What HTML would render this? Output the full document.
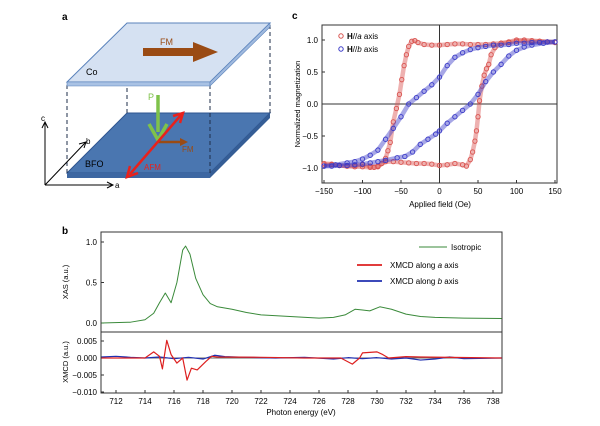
<!DOCTYPE html>
<html><head><meta charset="utf-8"><style>
body{margin:0;background:#fff;}
svg{display:block;font-family:"Liberation Sans",Arial,sans-serif;}
</style></head><body>
<svg id="fig" width="600" height="426" viewBox="0 0 600 426">
<g>
<text x="62" y="20" font-size="10" font-weight="bold">a</text>
<polygon points="67,173 127,113 270,113 210,173" fill="#4a76b0" stroke="#2f5590"/>
<polygon points="67,173 210,173 210,178 67,178" fill="#3d67a2"/>
<polygon points="210,173 270,113 270,118 210,178" fill="#355d95"/>
<g stroke="#1d2d4a" stroke-dasharray="4,3" stroke-width="1">
<line x1="67" y1="85" x2="67" y2="173"/><line x1="127" y1="25" x2="127" y2="113"/>
<line x1="210" y1="85" x2="210" y2="173"/><line x1="270" y1="25" x2="270" y2="113"/>
</g>
<polygon points="67,82 127,23 270,23 210,82" fill="#d5e1f2" stroke="#5a82bb"/>
<polygon points="67,82 210,82 210,86 67,86" fill="#a9c2e4" stroke="#5a82bb" stroke-width="0.6"/>
<polygon points="210,82 270,23 270,27 210,86" fill="#9fb9de" stroke="#5a82bb" stroke-width="0.6"/>
<polygon points="143,48 193,48 193,42 218,52 193,62 193,56 143,56" fill="#9a4b14"/>
<text x="160" y="45" font-size="9" fill="#9a4b14">FM</text>
<text x="86" y="75" font-size="9">Co</text>
<text x="85" y="167" font-size="9">BFO</text>
<line x1="157" y1="142" x2="182" y2="142" stroke="#9a4b14" stroke-width="2.5"/>
<polygon points="180,138 188,142 180,146" fill="#9a4b14"/>
<text x="182" y="152" font-size="8" fill="#9a4b14">FM</text>
<line x1="158" y1="95" x2="158" y2="132" stroke="#7fc24a" stroke-width="3.5"/>
<polyline points="149,124 158,140 167,124" fill="none" stroke="#7fc24a" stroke-width="3.5"/>
<text x="148" y="100" font-size="9" fill="#7fc24a">P</text>
<line x1="130" y1="174" x2="181" y2="115" stroke="#e8211c" stroke-width="2.5"/>
<polyline points="130,166 127,177 138,173" fill="none" stroke="#e8211c" stroke-width="2.5"/>
<polyline points="173,116 183,113 180,123" fill="none" stroke="#e8211c" stroke-width="2.5"/>
<text x="144" y="170" font-size="8" fill="#e8211c">AFM</text>
<g stroke="#000" stroke-width="1" fill="none">
<line x1="45" y1="185" x2="45" y2="123"/><polyline points="42,128 45,122 48,128"/>
<line x1="45" y1="185" x2="112" y2="185"/><polyline points="107,182 113,185 107,188"/>
<line x1="45" y1="185" x2="85" y2="143"/><polyline points="79,144 86,142 84,148"/>
</g>
<text x="41" y="121" font-size="8">c</text>
<text x="115" y="188" font-size="8">a</text>
<text x="86" y="144" font-size="8">b</text>
</g>
<text x="292" y="19" font-size="10" font-weight="bold">c</text>
<text x="62" y="234" font-size="10" font-weight="bold">b</text>
<g id="hyst"></g>
<g id="xas"></g>
</svg>
<script>
const redDownH=[150,140,130,120,110,100,90,80,70,60,50,40,30,20,10,0,-10,-20,-28,-32,-36,-40,-43,-46,-49,-52,-56,-60,-64,-67,-70,-75,-80,-85,-90,-100,-110,-120,-130,-140,-150];
const redDownM=[0.97,0.97,0.98,0.99,1.0,0.98,0.96,0.95,0.94,0.93,0.93,0.93,0.94,0.94,0.93,0.92,0.92,0.93,0.96,0.99,0.98,0.9,0.77,0.6,0.38,0.15,-0.07,-0.28,-0.6,-0.73,-0.85,-0.93,-0.98,-0.99,-0.97,-0.95,-0.96,-0.97,-0.96,-0.94,-0.93];
const redUpH=[-150,-140,-130,-120,-110,-100,-90,-80,-70,-60,-50,-40,-30,-20,-10,0,10,20,30,35,40,43,46,48,50,52,55,58,61,64,67,72,80,90,100,110,120,130,140,150];
const redUpM=[-0.95,-0.95,-0.96,-0.97,-0.98,-0.98,-0.99,-0.97,-0.9,-0.9,-0.91,-0.92,-0.93,-0.93,-0.94,-0.96,-0.95,-0.93,-0.95,-0.97,-0.87,-0.75,-0.58,-0.42,-0.2,0.05,0.28,0.45,0.55,0.62,0.77,0.88,0.95,0.97,1.0,0.98,0.97,0.98,0.97,0.96];
const blueDownH=[150,140,130,120,110,100,90,80,70,60,50,40,30,20,10,0,-10,-20,-30,-40,-50,-60,-70,-80,-90,-100,-110,-120,-135,-150];
const blueDownM=[0.97,0.97,0.96,0.96,0.95,0.95,0.93,0.92,0.92,0.9,0.88,0.85,0.8,0.73,0.6,0.42,0.3,0.2,0.1,0.0,-0.2,-0.38,-0.55,-0.72,-0.8,-0.86,-0.9,-0.92,-0.95,-0.97];
const blueUpH=[-150,-140,-130,-120,-110,-100,-90,-80,-70,-55,-45,-35,-25,-15,-5,0,10,20,30,40,50,60,70,80,90,100,110,120,135,150];
const blueUpM=[-0.97,-0.97,-0.96,-0.96,-0.95,-0.94,-0.92,-0.9,-0.88,-0.84,-0.82,-0.75,-0.63,-0.55,-0.47,-0.42,-0.3,-0.2,-0.1,0.0,0.15,0.35,0.5,0.62,0.75,0.84,0.89,0.92,0.95,0.97];
const hXTicks=[-150,-100,-50,0,50,100,150];
const hYTicks=[-1.0,-0.5,0.0,0.5,1.0];

const xasE=[711,713,714,714.6,715,715.4,715.8,716.2,716.6,716.8,717.1,717.5,718,718.5,719,720,721,722,724,726,727,727.8,728.5,729,729.5,730.2,731,732,733,734,736,738.6];
const xasV=[0,0.01,0.04,0.12,0.25,0.37,0.25,0.5,0.9,0.95,0.85,0.55,0.35,0.24,0.2,0.17,0.13,0.1,0.08,0.06,0.07,0.1,0.17,0.16,0.15,0.2,0.17,0.11,0.08,0.07,0.06,0.055];
const xmcdAE=[711,714,714.6,715,715.2,715.5,715.8,716.2,716.6,716.9,717.2,717.6,718.2,718.6,719,722,725,727.5,728.3,728.8,729,730,730.4,730.8,732,733,738.6];
const xmcdAV=[0,0,1.8,0.5,-3.2,5.2,1,-1.5,0,-6.5,-3,-3.5,-1,0.5,0.3,0.2,0,0,-1.8,0,1.5,1.8,1,0,0.4,0.3,0];
const xmcdBE=[711,712,713,714,715,716,717,718,718.8,719.5,721,723,725,727,728,729,730,731,732,733,734,735,736,738.6];
const xmcdBV=[0.3,0.5,0.2,0,0.3,-0.2,0.2,-0.3,0.8,0.4,0.2,0,0.2,-0.3,0.1,-0.2,0.1,-0.3,0,-0.6,-0.3,0.3,-0.2,0];
const eTicks=[712,714,716,718,720,722,724,726,728,730,732,734,736,738];
const xasTicks=[0.0,0.5,1.0];
const xmcdTicks=[-0.010,-0.005,0.000,0.005];

const NS='http://www.w3.org/2000/svg';
function mk(p,tag,at,txt){const e=document.createElementNS(NS,tag);for(const k in at)e.setAttribute(k,at[k]);if(txt!==undefined)e.textContent=txt;p.appendChild(e);return e;}

const H=document.getElementById('hyst');
const hx=v=>324+(v+150)*231/300, hy=v=>104-v*64;
const fr=mk(H,'rect',{x:322,y:25,width:235,height:158,fill:'none',stroke:'#333','stroke-width':1});


const z1=mk(H,'line',{x1:hx(0),x2:hx(0),y1:25,y2:183,stroke:'#333'});


const z2=mk(H,'line',{x1:322,x2:557,y1:hy(0),y2:hy(0),stroke:'#333'});


hXTicks.forEach(t=>{
  const l=mk(H,'line',{x1:hx(t),x2:hx(t),y1:183,y2:180,stroke:'#333'});
  
  
  const tx=mk(H,'text',{x:hx(t),y:194,'font-size':8,'text-anchor':'middle'},t===0?'0':(t<0?'\u2212'+(-t):t));
  
  
});
hYTicks.forEach(t=>{
  const l=mk(H,'line',{x1:322,x2:325,y1:hy(t),y2:hy(t),stroke:'#333'});
  
  
  const tx=mk(H,'text',{x:318,y:hy(t)+3,'font-size':8,'text-anchor':'end'},(t<0?'\u2212':'')+Math.abs(t).toFixed(1));
  
  
});
const xt=mk(H,'text',{x:440,y:207,'font-size':8,'text-anchor':'middle'},'Applied field (Oe)');


const yt=mk(H,'text',{x:0,y:0,'font-size':7.5,'text-anchor':'middle',transform:'translate(300,104) rotate(-90)'},'Normalized magnetization');


function branch(hs,ms,col,name){
  const pts=hs.map((h,i)=>hx(h)+','+hy(ms[i])).join(' ');
  const pl=mk(H,'polyline',{points:pts,fill:'none',stroke:col,'stroke-width':4.5,'stroke-opacity':0.45,'stroke-linejoin':'round'});
  
  
  hs.forEach((h,i)=>{
    const c=mk(H,'circle',{cx:hx(h),cy:hy(ms[i]),r:2.2,fill:'none',stroke:col,'stroke-width':0.9});
    
    
  });
}
branch(redDownH,redDownM,'#d9534f','h-a-down');
branch(redUpH,redUpM,'#d9534f','h-a-up');
branch(blueDownH,blueDownM,'#3b3bc8','h-b-down');
branch(blueUpH,blueUpM,'#3b3bc8','h-b-up');
[['#d9534f','a',36,'legend-h-a'],['#3b3bc8','b',49,'legend-h-b']].forEach(d=>{
  const c=mk(H,'circle',{cx:341,cy:d[2],r:2.2,fill:'none',stroke:d[0]});
  
  
  const t=mk(H,'text',{x:347,y:d[2]+3,'font-size':8});
  
  
  mk(t,'tspan',{'font-weight':'bold'},'H');
  mk(t,'tspan',{},'//');
  mk(t,'tspan',{'font-style':'italic'},d[1]);
  mk(t,'tspan',{},' axis');
});

const X=document.getElementById('xas');
const ex=e=>116+(e-712)*14.5;
const ay=v=>323-v*81, my=v=>358-v*3.4;
const f1=mk(X,'rect',{x:101,y:232,width:401,height:161,fill:'none',stroke:'#333'});


const dv=mk(X,'line',{x1:101,x2:502,y1:332,y2:332,stroke:'#333'});


eTicks.forEach(t=>{
  const l=mk(X,'line',{x1:ex(t),x2:ex(t),y1:393,y2:390,stroke:'#333'});
  
  
  const tx=mk(X,'text',{x:ex(t),y:404,'font-size':8,'text-anchor':'middle'},t);
  
  
});
xasTicks.forEach(t=>{
  const l=mk(X,'line',{x1:101,x2:104,y1:ay(t),y2:ay(t),stroke:'#333'});
  
  
  const tx=mk(X,'text',{x:97,y:ay(t)+3,'font-size':8,'text-anchor':'end'},t.toFixed(1));
  
  
});
xmcdTicks.forEach(t=>{
  const l=mk(X,'line',{x1:101,x2:104,y1:my(t*1000),y2:my(t*1000),stroke:'#333'});
  
  
  const tx=mk(X,'text',{x:97,y:my(t*1000)+3,'font-size':8,'text-anchor':'end'},(t<0?'\u2212':'')+Math.abs(t).toFixed(3));
  
  
});
const bl=mk(X,'line',{x1:101,x2:502,y1:my(0),y2:my(0),stroke:'#333','stroke-width':0.8});


const ext=mk(X,'text',{x:301,y:415,'font-size':8,'text-anchor':'middle'},'Photon energy (eV)');


const y1t=mk(X,'text',{x:0,y:0,'font-size':7.5,'text-anchor':'middle',transform:'translate(68,282) rotate(-90)'},'XAS (a.u.)');


const y2t=mk(X,'text',{x:0,y:0,'font-size':7.5,'text-anchor':'middle',transform:'translate(68,362) rotate(-90)'},'XMCD (a.u.)');


function line(es,vs,fy,col,w,name){
  const p=mk(X,'polyline',{points:es.map((e,i)=>ex(e)+','+fy(vs[i])).join(' '),fill:'none',stroke:col,'stroke-width':w,'stroke-linejoin':'round'});
  
  
}
line(xasE,xasV,ay,'#3a8a3a',1,'isotropic-xas-line');
line(xmcdBE,xmcdBV,my,'#2030b0',1.2,'xmcd-b-line');
line(xmcdAE,xmcdAV,my,'#dd2020',1.2,'xmcd-a-line');
[[419,447,247,'#3a8a3a',1,'',451,'legend-isotropic'],[357,382,265,'#dd2020',1.8,'a',390,'legend-xmcd-a'],[357,382,281,'#2030b0',1.8,'b',390,'legend-xmcd-b']].forEach(d=>{
  const l=mk(X,'line',{x1:d[0],x2:d[1],y1:d[2],y2:d[2],stroke:d[3],'stroke-width':d[4]});
  
  
  const t=mk(X,'text',{x:d[6],y:d[2]+3,'font-size':8});
  
  
  if(d[5]===''){t.textContent='Isotropic';}
  else{mk(t,'tspan',{},'XMCD along ');mk(t,'tspan',{'font-style':'italic'},d[5]);mk(t,'tspan',{},' axis');}
});
</script>
</body></html>
